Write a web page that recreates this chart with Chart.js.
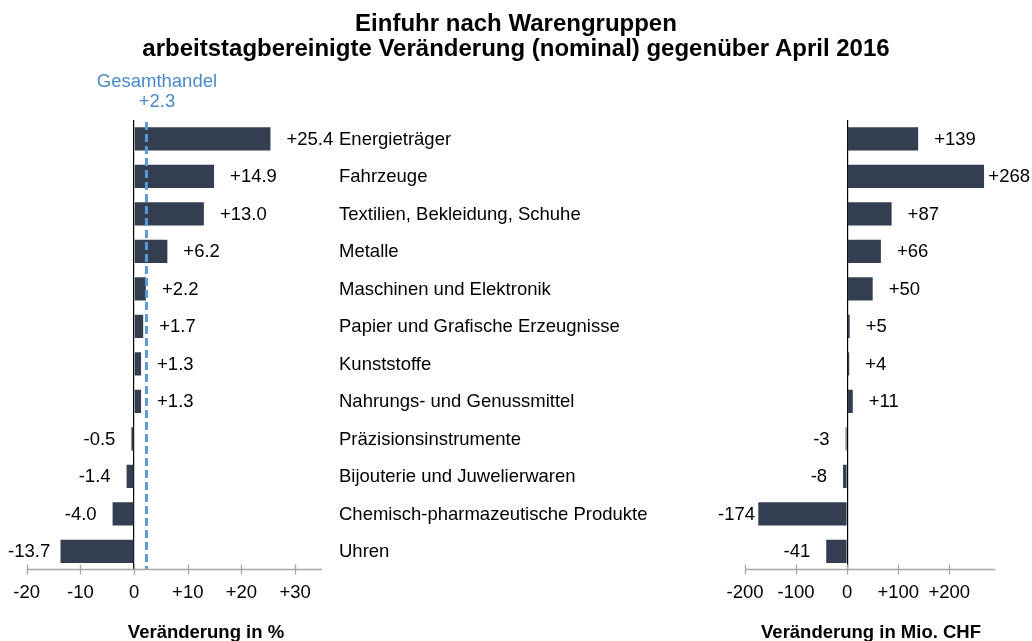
<!DOCTYPE html>
<html>
<head>
<meta charset="utf-8">
<script src="https://cdn.jsdelivr.net/npm/chart.js@4"></script>
<style>
  html, body { margin: 0; padding: 0; background: #fff; }
  #wrap { position: relative; width: 1032px; height: 641px; overflow: hidden; }
  #title {
    position: absolute; left: 0; top: 10px; width: 1032px;
    text-align: center; font: bold 24px Arial, "Liberation Sans", sans-serif;
    line-height: 25px; color: #000;
  }
  canvas { position: absolute; top: 0; }
</style>
</head>
<body>
<div id="wrap">
  <canvas id="pctChart" width="700" height="641" style="left:0"></canvas>
  <canvas id="chfChart" width="332" height="641" style="left:700px"></canvas>
  <div id="title">Einfuhr nach Warengruppen<br>arbeitstagbereinigte Veränderung (nominal) gegenüber April 2016</div>
</div>
<script>
const categories = [
  "Energieträger",
  "Fahrzeuge",
  "Textilien, Bekleidung, Schuhe",
  "Metalle",
  "Maschinen und Elektronik",
  "Papier und Grafische Erzeugnisse",
  "Kunststoffe",
  "Nahrungs- und Genussmittel",
  "Präzisionsinstrumente",
  "Bijouterie und Juwelierwaren",
  "Chemisch-pharmazeutische Produkte",
  "Uhren"
];
const changePct = [25.4, 14.9, 13.0, 6.2, 2.2, 1.7, 1.3, 1.3, -0.5, -1.4, -4.0, -13.7];
const changeChf = [139, 268, 87, 66, 50, 5, 4, 11, -3, -8, -174, -41];
const totalPct = 2.3;
const totalLabel = ["Gesamthandel", "+2.3"];
const pctTicks = [-20, -10, 0, 10, 20, 30];
const chfTicks = [-200, -100, 0, 100, 200];
const pctRange = [-20, 35];
const chfRange = [-200, 290];
const pctTitle = "Veränderung in %";
const chfTitle = "Veränderung in Mio. CHF";

const FONT = "Arial, 'Liberation Sans', sans-serif";
const BAR = "#333f50";

const signed = (v, d) => (v > 0 ? "+" : "") + (d ? v.toFixed(d) : String(v));

// value labels next to the bar ends, kept inside minX..maxX
function valueLabels(fmt, gap, minX, maxX) {
  return {
    id: "valueLabels",
    afterDatasetsDraw(chart) {
      const ctx = chart.ctx;
      const data = chart.data.datasets[0].data;
      ctx.save();
      ctx.font = "18.5px " + FONT;
      ctx.fillStyle = "#000";
      ctx.textBaseline = "middle";
      ctx.textAlign = "left";
      chart.getDatasetMeta(0).data.forEach((bar, i) => {
        const t = fmt(data[i]);
        const w = ctx.measureText(t).width;
        let x;
        if (data[i] >= 0) {
          x = bar.x + gap;
          if (x + w > maxX) x = maxX - w;
        } else {
          x = bar.x - gap - w;
          if (x < minX) x = minX;
        }
        ctx.fillText(t, x, bar.y + 1);
      });
      ctx.restore();
    }
  };
}

// grey axis line with ticks crossing it, plus bold axis title
function axisLine(title, titleX) {
  return {
    id: "axisLine",
    afterDraw(chart) {
      const ctx = chart.ctx;
      const s = chart.scales.x;
      const y = Math.round(chart.chartArea.bottom) - 0.5;
      ctx.save();
      ctx.strokeStyle = "#a6a6a6";
      ctx.lineWidth = 1.3;
      ctx.beginPath();
      ctx.moveTo(s.left, y);
      ctx.lineTo(s.right, y);
      s.ticks.forEach(t => {
        const px = Math.round(s.getPixelForValue(t.value)) + 0.5;
        ctx.moveTo(px, y - 5);
        ctx.lineTo(px, y + 5);
      });
      ctx.stroke();
      ctx.font = "bold 18.5px " + FONT;
      ctx.fillStyle = "#000";
      ctx.textAlign = "center";
      ctx.textBaseline = "alphabetic";
      ctx.fillText(title, titleX, 638);
      ctx.restore();
    }
  };
}

const totalLine = {
  id: "totalLine",
  afterDatasetsDraw(chart) {
    const ctx = chart.ctx;
    const x = chart.scales.x.getPixelForValue(totalPct);
    const a = chart.chartArea;
    ctx.save();
    ctx.strokeStyle = "#5b9bd5";
    ctx.lineWidth = 3;
    ctx.setLineDash([8, 4]);
    ctx.beginPath();
    ctx.moveTo(x, a.top + 2);
    ctx.lineTo(x, a.bottom - 1);
    ctx.stroke();
    ctx.font = "18.5px " + FONT;
    ctx.fillStyle = "#4a8ac8";
    ctx.textAlign = "center";
    ctx.fillText(totalLabel[0], x + 10.5, 87);
    ctx.fillText(totalLabel[1], x + 10.5, 107);
    ctx.restore();
  }
};

const categoryLabels = {
  id: "categoryLabels",
  afterDraw(chart) {
    const ctx = chart.ctx;
    const ys = chart.scales.y;
    ctx.save();
    ctx.font = "18.5px " + FONT;
    ctx.fillStyle = "#000";
    ctx.textAlign = "left";
    ctx.textBaseline = "middle";
    categories.forEach((c, i) => ctx.fillText(c, 339, ys.getPixelForValue(i) + 1));
    ctx.restore();
  }
};

function barChart(id, values, range, tickValues, fmtTick, padding, plugins) {
  return new Chart(document.getElementById(id), {
    type: "bar",
    data: {
      labels: categories,
      datasets: [{
        data: values,
        backgroundColor: BAR,
        borderWidth: 0,
        barPercentage: 0.62,
        categoryPercentage: 1
      }]
    },
    options: {
      indexAxis: "y",
      responsive: false,
      animation: false,
      devicePixelRatio: 1,
      layout: { padding: padding },
      plugins: { legend: { display: false }, tooltip: { enabled: false } },
      scales: {
        y: { display: false },
        x: {
          min: range[0],
          max: range[1],
          border: { display: false },
          grid: {
            drawTicks: false,
            lineWidth: 1.2,
            color: c => (c.tick && c.tick.value === 0 ? "#000" : "rgba(0,0,0,0)")
          },
          ticks: {
            padding: 12,
            color: "#000",
            font: { family: FONT, size: 18.5 },
            maxRotation: 0,
            autoSkip: false,
            callback: v => fmtTick(v)
          },
          afterBuildTicks: s => { s.ticks = tickValues.map(v => ({ value: v })); },
          afterFit: s => { s.height = 71; }
        }
      }
    },
    plugins: plugins
  });
}

barChart("pctChart", changePct, pctRange, pctTicks, v => signed(v),
  { left: 26.7, right: 378, top: 120, bottom: 0 },
  [totalLine, categoryLabels, valueLabels(v => signed(v, 1), 16, 8, 700), axisLine(pctTitle, 206)]);

barChart("chfChart", changeChf, chfRange, chfTicks, v => signed(v),
  { left: 45, right: 36.7, top: 120, bottom: 0 },
  [valueLabels(v => signed(v), 16, 18, 330), axisLine(chfTitle, 171)]);
</script>
</body>
</html>
